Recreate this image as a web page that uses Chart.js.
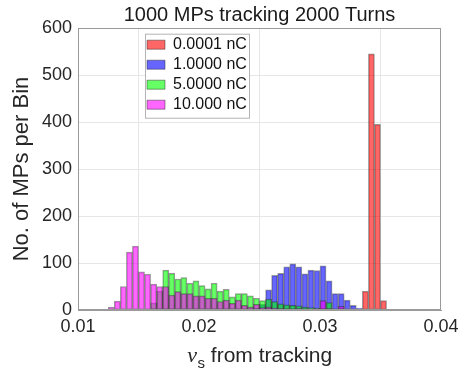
<!DOCTYPE html>
<html>
<head>
<meta charset="utf-8">
<script src="https://cdn.jsdelivr.net/npm/chart.js@4.4.1/dist/chart.umd.min.js"></script>
<style>
html,body{margin:0;padding:0;background:#ffffff;}
#wrap{width:474px;height:370px;}
</style>
</head>
<body>
<div id="wrap"><canvas id="c" width="474" height="370"></canvas></div>
<script>
// ---- Data (bin centres, bin width 0.0005) ----
const binCenters = [
  0.01225, 0.01275, 0.01325, 0.01375, 0.01425, 0.01475, 0.01525, 0.01575, 0.01625, 0.01675,
  0.01725, 0.01775, 0.01825, 0.01875, 0.01925, 0.01975, 0.02025, 0.02075, 0.02125, 0.02175,
  0.02225, 0.02275, 0.02325, 0.02375, 0.02425, 0.02475, 0.02525, 0.02575, 0.02625, 0.02675,
  0.02725, 0.02775, 0.02825, 0.02875, 0.02925, 0.02975, 0.03025, 0.03075, 0.03125, 0.03175,
  0.03225, 0.03275, 0.03325, 0.03375, 0.03425, 0.03475, 0.03525
];
const counts_0_0001nC = [
  0, 0, 0, 0, 0, 0, 0, 0, 0, 0,
  0, 0, 0, 0, 0, 0, 0, 0, 0, 0,
  0, 0, 0, 0, 0, 0, 0, 0, 0, 0,
  0, 0, 0, 0, 0, 0, 0, 0, 0, 0,
  0, 0, 0, 40, 545, 395, 20
];
const counts_1_0000nC = [
  0, 0, 0, 0, 0, 0, 0, 0, 0, 0,
  0, 0, 0, 0, 0, 0, 0, 0, 0, 0,
  0, 0, 0, 0, 0, 4, 12, 43, 74, 78,
  92, 98, 92, 77, 85, 84, 94, 62, 35, 35,
  21, 10, 4, 0, 0, 0, 0
];
const counts_5_0000nC = [
  0, 0, 0, 0, 0, 0, 0, 0, 15, 40,
  85, 78, 66, 69, 57, 62, 52, 45, 57, 40,
  44, 28, 35, 35, 30, 25, 20, 23, 18, 13,
  11, 10, 9, 7, 5, 4, 3, 16, 2, 3,
  1, 0, 0, 0, 0, 0, 0
];
const counts_10_000nC = [
  0, 6, 19, 50, 123, 136, 81, 76, 55, 50,
  50, 32, 39, 35, 35, 30, 30, 25, 25, 18,
  21, 14, 21, 10, 7, 12, 5, 7, 4, 3,
  2, 2, 3, 2, 2, 3, 20, 3, 2, 8,
  2, 0, 0, 0, 0, 0, 0
];
const seriesLabels = ['0.0001 nC', '1.0000 nC', '5.0000 nC', '10.000 nC'];
const xTickValues = [0.01, 0.02, 0.03, 0.04];
const xTickLabels = ['0.01', '0.02', '0.03', '0.04'];
const yTickValues = [0, 100, 200, 300, 400, 500, 600];
const yTickLabels = ['0', '100', '200', '300', '400', '500', '600'];
const chartTitle = '1000 MPs tracking 2000 Turns';
const yTitle = 'No. of MPs per Bin';
const xTitleSymbol = '\u03BD';
const xTitleSub = 's';
const xTitleRest = ' from tracking';

// ---- Styling ----
const FONT = "'Liberation Sans', Arial, Helvetica, sans-serif";
const fills = ['rgba(255,0,0,0.6)', 'rgba(0,0,255,0.6)', 'rgba(0,255,0,0.6)', 'rgba(255,0,255,0.6)'];
const allCounts = [counts_0_0001nC, counts_1_0000nC, counts_5_0000nC, counts_10_000nC];

const datasets = allCounts.map((vals, si) => ({
  label: seriesLabels[si],
  data: binCenters.map((x, i) => ({x: x, y: vals[i]})).filter(p => p.y > 0),
  backgroundColor: fills[si],
  borderColor: 'rgba(30,30,30,0.45)',
  borderWidth: 1,
  borderSkipped: false,
  order: 4 - si
}));

const legendBoxPlugin = {
  id: 'legendBox',
  afterLayout(chart) {
    const lg = chart.legend;
    if (!lg) return;
    const ca = chart.chartArea;
    lg.left = ca.left + 65;
    lg.top = ca.top + 4.7;
    lg.right = lg.left + 110;
    lg.bottom = lg.top + 90;
    if (!lg._boxWrapped) {
      const origDraw = lg.draw.bind(lg);
      lg.draw = function () {
        const ctx = chart.ctx;
        ctx.save();
        ctx.fillStyle = '#ffffff';
        ctx.strokeStyle = '#b4b4b4';
        ctx.lineWidth = 1;
        ctx.fillRect(lg.left + 2, lg.top + 1.5, 104, 84);
        ctx.strokeRect(lg.left + 2.5, lg.top + 1.5, 104, 84);
        ctx.restore();
        origDraw();
      };
      lg._boxWrapped = true;
    }
  }
};

const axesBoxPlugin = {
  id: 'axesBox',
  afterDraw(chart) {
    const ctx = chart.ctx, ca = chart.chartArea;
    ctx.save();
    ctx.strokeStyle = '#9a9a9a';
    ctx.lineWidth = 1;
    ctx.strokeRect(Math.round(ca.left) + 0.5, Math.round(ca.top) + 0.5,
                   Math.round(ca.right - ca.left) - 1, Math.round(ca.bottom - ca.top) - 1);
    // x-axis title with subscript
    const cx = (ca.left + ca.right) / 2;
    const base = ca.bottom + 52;
    const f1 = "italic 22px 'Liberation Serif', 'DejaVu Serif', serif";
    const f2 = "15px " + FONT;
    const f3 = "21px " + FONT;
    ctx.font = f1; const w1 = ctx.measureText(xTitleSymbol).width;
    ctx.font = f2; const w2 = ctx.measureText(xTitleSub).width;
    ctx.font = f3; const w3 = ctx.measureText(xTitleRest).width;
    let x = cx - (w1 + w2 + w3) / 2;
    ctx.fillStyle = '#262626';
    ctx.textBaseline = 'alphabetic';
    ctx.textAlign = 'left';
    ctx.font = f1; ctx.fillText(xTitleSymbol, x, base); x += w1 + 0.5;
    ctx.font = f2; ctx.fillText(xTitleSub, x, base + 6); x += w2;
    ctx.font = f3; ctx.fillText(xTitleRest, x, base);
    ctx.restore();
  }
};

new Chart(document.getElementById('c'), {
  type: 'bar',
  data: {datasets: datasets},
  options: {
    responsive: false,
    animation: false,
    devicePixelRatio: 1,
    layout: {padding: {left: 0, right: 33, top: 0, bottom: 0}},
    datasets: {bar: {grouped: false, barPercentage: 1, categoryPercentage: 1}},
    scales: {
      x: {
        type: 'linear',
        min: 0.01, max: 0.04,
        offset: false,
        afterFit: (s) => { s.height = 60; },
        afterBuildTicks: (s) => { s.ticks = xTickValues.map(v => ({value: v})); },
        ticks: {
          callback: (v, i) => xTickLabels[i],
          font: {family: FONT, size: 18},
          color: '#262626',
          padding: 6,
          maxRotation: 0,
          autoSkip: false
        },
        grid: {color: '#e6e6e6', drawTicks: false},
        border: {color: '#9a9a9a'}
      },
      y: {
        type: 'linear',
        min: 0, max: 600,
        afterFit: (s) => { s.width = 78; },
        afterBuildTicks: (s) => { s.ticks = yTickValues.map(v => ({value: v})); },
        ticks: {
          callback: (v, i) => yTickLabels[i],
          font: {family: FONT, size: 18},
          color: '#262626',
          padding: 6
        },
        grid: {color: '#e6e6e6', drawTicks: false},
        border: {color: '#9a9a9a'},
        title: {
          display: true,
          text: yTitle,
          font: {family: FONT, size: 22},
          color: '#262626',
          padding: {top: 9, bottom: 0}
        }
      }
    },
    plugins: {
      title: {
        display: true,
        text: chartTitle,
        fullSize: false,
        font: {family: FONT, size: 20, weight: 'normal'},
        color: '#1a1a1a',
        padding: {top: 3, bottom: 1}
      },
      legend: {
        position: 'chartArea',
        fullSize: false,
        align: 'start',
        labels: {
          boxWidth: 18,
          boxHeight: 9,
          padding: 4,
          color: '#111111',
          font: {family: FONT, size: 16},
          sort: (a, b) => a.datasetIndex - b.datasetIndex
        }
      },
      tooltip: {enabled: false}
    }
  },
  plugins: [legendBoxPlugin, axesBoxPlugin]
});
</script>
</body>
</html>
